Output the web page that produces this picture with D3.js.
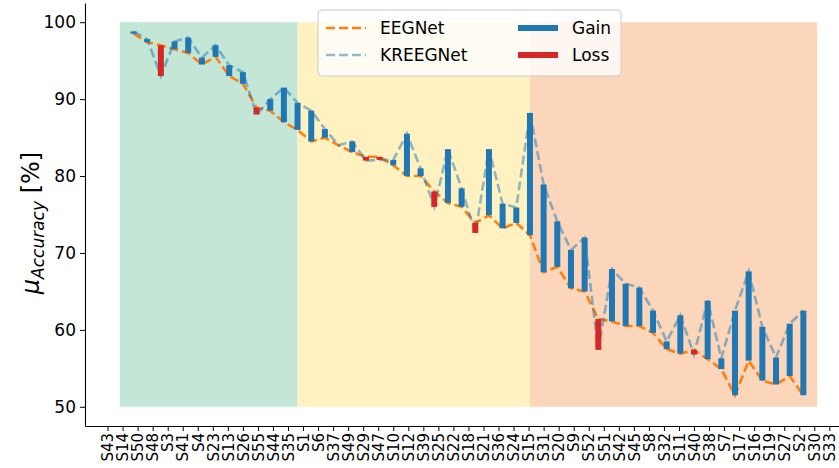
<!DOCTYPE html>
<html>
<head>
<meta charset="utf-8">
<script src="https://cdn.jsdelivr.net/npm/d3@7"></script>
<style>
  body { margin: 0; background: #fff; }
  svg { display: block; }
  text { font-family: "DejaVu Sans", sans-serif; fill: #000; }
</style>
</head>
<body>
<svg id="chart" width="839" height="468"></svg>
<script>
// Subject labels shown along the x axis
const subjects = ["S43","S14","S50","S48","S3","S41","S4","S23","S13","S26","S55","S44","S35",
  "S1","S6","S37","S49","S29","S47","S10","S12","S39","S25","S22","S18","S21","S36","S24",
  "S15","S31","S20","S9","S52","S51","S42","S45","S8","S32","S11","S40","S38","S7","S17",
  "S16","S19","S27","S2","S30","S33"];

// Mean accuracy per run (%) for each model
const eegnet = [98.5,97.4,97.0,96.5,96.0,94.5,95.5,93.0,92.0,88.9,88.5,87.0,86.0,84.5,85.0,84.0,
  83.1,82.5,82.5,81.4,80.0,80.0,78.0,76.5,76.0,73.9,74.9,73.2,73.9,72.3,67.5,68.2,65.4,65.0,
  61.4,61.1,60.5,60.5,59.6,57.5,56.9,57.4,56.2,54.9,51.5,56.0,53.4,52.9,54.0,51.5];
const kreegnet = [98.8,97.8,93.0,97.5,98.0,95.4,97.0,94.4,93.5,88.0,90.0,91.5,89.5,88.5,86.1,84.0,
  84.5,82.0,82.1,82.1,85.5,81.0,76.0,83.5,78.4,72.6,83.5,76.4,75.9,88.2,78.9,74.1,70.4,72.0,
  57.4,67.9,66.0,65.5,62.5,58.5,61.9,56.8,63.8,56.3,62.5,67.6,60.4,56.4,60.8,62.5];

// Performance groups (boundaries in run index units)
const groupBounds = [-1, 12, 29, 50];
const groupBottom = 50;
const groupTop = 100;

// Subject labels are spread evenly over this span of the x axis
const labelSpan = [-1.9, 50.9];

const yTicks = [50, 60, 70, 80, 90, 100];

const legendItems = ["EEGNet", "KREEGNet", "Gain", "Loss"];

// ---- drawing ----
const svg = d3.select("#chart");
const plotLeft = 85, plotBottom = 426, plotTop = 3;

const x = d3.scaleLinear().domain([-3.55, 52.55]).range([plotLeft, plotLeft + 56.1 * 13.67]);
const y = d3.scaleLinear().domain([47.5, 102.5]).range([plotBottom, plotTop]);

const groupColors = ["#c3e6d6", "#fff2c0", "#fbd6ba"];
const blue = "#1f77b4", red = "#d62728", orange = "#ff7f0e";

// background bands
svg.append("g").selectAll("rect")
  .data(d3.range(groupBounds.length - 1))
  .join("rect")
  .attr("x", i => x(groupBounds[i]))
  .attr("width", i => x(groupBounds[i + 1]) - x(groupBounds[i]))
  .attr("y", y(groupTop))
  .attr("height", y(groupBottom) - y(groupTop))
  .attr("fill", i => groupColors[i]);

const idx = d3.range(eegnet.length);

// EEGNet line
svg.append("path")
  .datum(idx)
  .attr("fill", "none")
  .attr("stroke", orange)
  .attr("stroke-width", 2.6)
  .attr("stroke-dasharray", "9,4")
  .attr("d", d3.line().x(i => x(i)).y(i => y(eegnet[i])));

// KREEGNet line
svg.append("path")
  .datum(idx)
  .attr("fill", "none")
  .attr("stroke", blue)
  .attr("stroke-opacity", 0.5)
  .attr("stroke-width", 2.6)
  .attr("stroke-dasharray", "9,4")
  .attr("d", d3.line().x(i => x(i)).y(i => y(kreegnet[i])));

// gain / loss bars
const barW = 6;
svg.append("g").selectAll("rect")
  .data(idx)
  .join("rect")
  .attr("x", i => x(i) - barW / 2)
  .attr("width", barW)
  .attr("y", i => y(Math.max(eegnet[i], kreegnet[i])))
  .attr("height", i => Math.abs(y(eegnet[i]) - y(kreegnet[i])))
  .attr("fill", i => kreegnet[i] >= eegnet[i] ? blue : red);

// x axis: subject labels spread evenly over labelSpan
const tickPos = subjects.map((s, i) =>
  labelSpan[0] + i * (labelSpan[1] - labelSpan[0]) / (subjects.length - 1));
const xAxis = svg.append("g")
  .attr("transform", `translate(0,${plotBottom})`)
  .call(d3.axisBottom(x).tickValues(tickPos).tickFormat((d, i) => subjects[i])
    .tickSize(5).tickSizeOuter(0));
xAxis.select(".domain").attr("stroke", "#000").attr("stroke-width", 1.1);
xAxis.selectAll(".tick line").attr("stroke", "#000");
xAxis.selectAll(".tick text")
  .attr("transform", "rotate(-90)")
  .attr("x", -7)
  .attr("y", 0)
  .attr("dy", "0.35em")
  .style("text-anchor", "end")
  .style("font-size", "15px")
  .style("font-family", "DejaVu Sans");

// y axis
const yAxis = svg.append("g")
  .attr("transform", `translate(${plotLeft},0)`)
  .call(d3.axisLeft(y).tickValues(yTicks).tickSize(5).tickPadding(4).tickSizeOuter(0));
yAxis.select(".domain").attr("stroke", "#000").attr("stroke-width", 1.1);
yAxis.selectAll(".tick line").attr("stroke", "#000");
yAxis.selectAll(".tick text")
  .style("font-size", "17px")
  .style("font-family", "DejaVu Sans");

// y label: mu_Accuracy [%]
const yl = svg.append("text")
  .attr("transform", "translate(39,223) rotate(-90)")
  .attr("text-anchor", "middle")
  .style("font-size", "24px");
yl.append("tspan").style("font-style", "italic").text("μ");
yl.append("tspan").style("font-style", "italic").style("font-size", "17px").attr("dy", 5).text("Accuracy");
yl.append("tspan").attr("dy", -5).text(" [%]");

// legend
const lg = svg.append("g").attr("transform", "translate(318,10)");
lg.append("rect")
  .attr("width", 303).attr("height", 66).attr("rx", 4)
  .attr("fill", "#fff").attr("fill-opacity", 0.8)
  .attr("stroke", "#ccc").attr("stroke-width", 1);
const handleStyle = [
  { color: orange, op: 1, w: 2.6, dash: "9,4" },
  { color: blue, op: 0.5, w: 2.6, dash: "9,4" },
  { color: blue, op: 1, w: 6, dash: null },
  { color: red, op: 1, w: 6, dash: null }
];
legendItems.forEach((name, i) => {
  const col = Math.floor(i / 2), row = i % 2;
  const hx = 8 + col * 192, hy = 18 + row * 27;
  const st = handleStyle[i];
  lg.append("line")
    .attr("x1", hx).attr("x2", hx + 40).attr("y1", hy).attr("y2", hy)
    .attr("stroke", st.color).attr("stroke-opacity", st.op)
    .attr("stroke-width", st.w)
    .attr("stroke-dasharray", st.dash);
  lg.append("text")
    .attr("x", hx + 54).attr("y", hy)
    .attr("dy", "0.35em")
    .style("font-size", "17px")
    .text(name);
});
</script>
</body>
</html>
